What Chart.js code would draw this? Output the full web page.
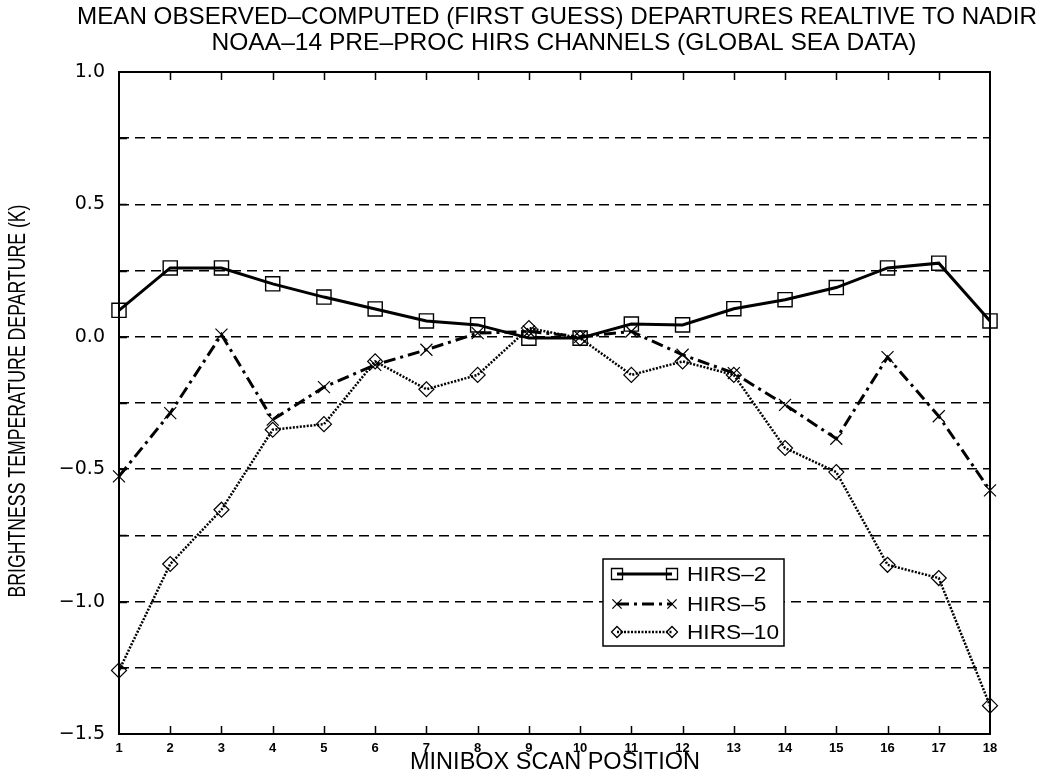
<!DOCTYPE html>
<html>
<head>
<meta charset="utf-8">
<script src="https://cdn.jsdelivr.net/npm/chart.js@4.4.1/dist/chart.umd.min.js"></script>
<style>
  html, body { margin: 0; padding: 0; background: #fff; }
</style>
</head>
<body>
<canvas id="chart" width="1041" height="777"></canvas>
<script>
// values
const scanPositions = ['1', '2', '3', '4', '5', '6', '7', '8', '9', '10', '11', '12', '13', '14', '15', '16', '17', '18'];
const hirs2 = [0.10, 0.26, 0.26, 0.20, 0.15, 0.105, 0.06, 0.045, -0.005, -0.005, 0.048, 0.045, 0.106, 0.14, 0.186, 0.26, 0.278, 0.06];
const hirs5 = [-0.527, -0.288, 0.008, -0.313, -0.19, -0.106, -0.049, 0.014, 0.02, 0.0, 0.02, -0.068, -0.137, -0.257, -0.385, -0.077, -0.30, -0.58];
const hirs10 = [-1.26, -0.858, -0.653, -0.351, -0.33, -0.093, -0.198, -0.144, 0.033, -0.005, -0.144, -0.093, -0.144, -0.42, -0.511, -0.861, -0.911, -1.393];
const seriesNames = ['HIRS–2', 'HIRS–5', 'HIRS–10'];
const yTickValues = [-1.5, -1.0, -0.5, 0.0, 0.5, 1.0];
const yTickLabels = ['−1.5', '−1.0', '−0.5', '0.0', '0.5', '1.0'];
const titleLines = [
  'MEAN OBSERVED–COMPUTED (FIRST GUESS) DEPARTURES REALTIVE TO NADIR',
  'NOAA–14 PRE–PROC HIRS CHANNELS (GLOBAL SEA DATA)'
];
const xTitle = 'MINIBOX SCAN POSITION';
const yTitle = 'BRIGHTNESS TEMPERATURE DEPARTURE (K)';

const FONT = '"Liberation Sans", Arial, sans-serif';

// draw text squeezed/stretched to a given width
function fitText(ctx, text, cx, cy, w, font, rot) {
  ctx.save();
  ctx.font = font;
  ctx.textAlign = 'center';
  ctx.textBaseline = 'middle';
  ctx.fillStyle = '#000';
  const m = ctx.measureText(text).width;
  ctx.translate(cx, cy);
  if (rot) ctx.rotate(rot);
  ctx.scale(w / m, 1);
  ctx.fillText(text, 0, 0);
  ctx.restore();
}

function marker(ctx, style, x, y, r) {
  ctx.beginPath();
  if (style === 'rect') {
    const s = r * Math.SQRT1_2;
    ctx.rect(x - s, y - s, 2 * s, 2 * s);
  } else if (style === 'crossRot') {
    const s = r * Math.SQRT1_2;
    ctx.moveTo(x - s, y - s); ctx.lineTo(x + s, y + s);
    ctx.moveTo(x - s, y + s); ctx.lineTo(x + s, y - s);
  } else {
    ctx.moveTo(x - r, y); ctx.lineTo(x, y - r); ctx.lineTo(x + r, y); ctx.lineTo(x, y + r); ctx.closePath();
  }
  ctx.stroke();
}

const decorPlugin = {
  id: 'decor',
  afterDatasetsDraw(chart) {
    const ctx = chart.ctx;
    const a = chart.chartArea;
    const xs = chart.scales.x, ys = chart.scales.y;

    // frame
    ctx.save();
    ctx.strokeStyle = '#000';
    ctx.lineWidth = 2;
    ctx.setLineDash([]);
    ctx.strokeRect(a.left, a.top, a.right - a.left, a.bottom - a.top);

    // inner tick marks
    ctx.lineWidth = 1.5;
    ctx.beginPath();
    scanPositions.forEach((p, i) => {
      if (i === 0 || i === scanPositions.length - 1) return;
      const px = Math.round(xs.getPixelForValue(i)) + 0.5;
      ctx.moveTo(px, a.top); ctx.lineTo(px, a.top + 8);
      ctx.moveTo(px, a.bottom); ctx.lineTo(px, a.bottom - 8);
    });
    ys.ticks.forEach(t => {
      if (t.value <= ys.min || t.value >= ys.max) return;
      const py = Math.round(ys.getPixelForValue(t.value)) + 0.5;
      ctx.moveTo(a.left, py); ctx.lineTo(a.left + 8, py);
    });
    ctx.stroke();
    ctx.restore();

    // titles
    fitText(ctx, titleLines[0], 557, 17, 960, '24px ' + FONT);
    fitText(ctx, titleLines[1], 564, 43, 705, '24px ' + FONT);
    fitText(ctx, xTitle, 555, 762, 290, '24px ' + FONT);
    fitText(ctx, yTitle, 18, 401, 393, '24px ' + FONT, -Math.PI / 2);

    // legend
    const box = { l: 603, t: 559, r: 784, b: 646 };
    ctx.save();
    ctx.fillStyle = '#fff';
    ctx.fillRect(box.l, box.t, box.r - box.l, box.b - box.t);
    ctx.strokeStyle = '#000';
    ctx.lineWidth = 1.5;
    ctx.strokeRect(box.l, box.t, box.r - box.l, box.b - box.t);
    const rows = [574, 604, 632];
    const legR = [7.8, 6.5, 5.5];
    ctx.font = '20px ' + FONT;
    const sx = 92 / ctx.measureText(seriesNames[2]).width;
    chart.data.datasets.forEach((ds, i) => {
      const y = rows[i];
      ctx.strokeStyle = '#000';
      ctx.lineWidth = ds.borderWidth;
      ctx.setLineDash(ds.borderDash || []);
      ctx.beginPath();
      ctx.moveTo(617, y); ctx.lineTo(672, y);
      ctx.stroke();
      ctx.setLineDash([]);
      ctx.lineWidth = 1.3;
      marker(ctx, ds.pointStyle, 617, y, legR[i]);
      marker(ctx, ds.pointStyle, 672, y, legR[i]);
      ctx.save();
      ctx.fillStyle = '#000';
      ctx.textAlign = 'left';
      ctx.textBaseline = 'middle';
      ctx.translate(687, y + 1);
      ctx.scale(sx, 1);
      ctx.fillText(ds.label, 0, 0);
      ctx.restore();
    });
    ctx.restore();
  }
};

new Chart(document.getElementById('chart'), {
  type: 'line',
  data: {
    labels: scanPositions,
    datasets: [
      { label: seriesNames[0], data: hirs2, borderColor: '#000', borderWidth: 3, borderDash: [],
        pointStyle: 'rect', pointRadius: 10, pointBorderWidth: 1.4, pointBorderColor: '#000',
        pointBackgroundColor: 'rgba(0,0,0,0)', fill: false, tension: 0, clip: false },
      { label: seriesNames[1], data: hirs5, borderColor: '#000', borderWidth: 3, borderDash: [12, 5, 3, 5],
        pointStyle: 'crossRot', pointRadius: 8.5, pointBorderWidth: 1.2, pointBorderColor: '#000',
        pointBackgroundColor: 'rgba(0,0,0,0)', fill: false, tension: 0, clip: false },
      { label: seriesNames[2], data: hirs10, borderColor: '#000', borderWidth: 2.5, borderDash: [2, 1.5],
        pointStyle: 'rectRot', pointRadius: 7.5, pointBorderWidth: 1.2, pointBorderColor: '#000',
        pointBackgroundColor: 'rgba(0,0,0,0)', fill: false, tension: 0, clip: false }
    ]
  },
  options: {
    responsive: false,
    animation: false,
    events: [],
    layout: { padding: { top: 72, right: 51, bottom: 0, left: 0 } },
    plugins: { legend: { display: false }, title: { display: false }, tooltip: { enabled: false } },
    scales: {
      x: {
        type: 'category',
        offset: false,
        grid: { display: false },
        border: { display: false },
        ticks: { color: '#000', font: { family: FONT, size: 13, weight: 'bold' }, padding: -1, maxRotation: 0, autoSkip: false },
        afterFit(s) { s.height = 43; }
      },
      y: {
        min: -1.5,
        max: 1.0,
        grid: {
          color: c => (c.tick && (c.tick.value <= -1.5 || c.tick.value >= 1.0)) ? 'rgba(0,0,0,0)' : '#000',
          lineWidth: 1.5,
          drawTicks: false
        },
        border: { display: false, dash: [10, 6] },
        ticks: {
          stepSize: 0.25,
          color: '#000',
          padding: 14,
          font: { family: '"DejaVu Sans", sans-serif', size: 19 },
          callback: v => {
            const i = yTickValues.findIndex(t => Math.abs(t - v) < 1e-6);
            return i >= 0 ? yTickLabels[i] : '';
          }
        },
        afterFit(s) { s.width = 119; }
      }
    }
  },
  plugins: [decorPlugin]
});
</script>
</body>
</html>
